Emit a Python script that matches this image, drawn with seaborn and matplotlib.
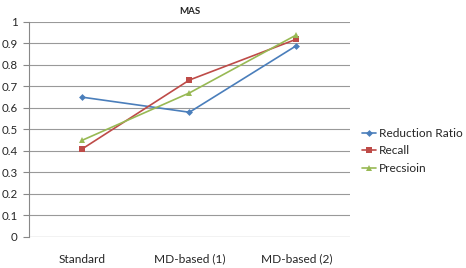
import matplotlib
matplotlib.use("Agg")
import matplotlib.pyplot as plt
import pandas as pd
import seaborn as sns

categories = ["Standard", "MD-based (1)", "MD-based (2)"]
reduction_ratio = [0.65, 0.58, 0.89]
recall = [0.41, 0.73, 0.92]
precision = [0.45, 0.67, 0.94]
series_names = ["Reduction Ratio", "Recall", "Precsioin"]

df = pd.DataFrame({
    "method": categories * 3,
    "value": reduction_ratio + recall + precision,
    "series": [s for s in series_names for _ in categories],
})

sns.set_style("white")
plt.rcParams["font.family"] = ["Lato", "DejaVu Sans"]

fig = plt.figure(figsize=(4.66, 2.68), dpi=100)
ax = fig.add_axes([0.062, 0.116, 0.689, 0.802])

palette = {"Reduction Ratio": "#4A7EBB", "Recall": "#BE4B48", "Precsioin": "#98B954"}
markers = {"Reduction Ratio": "D", "Recall": "s", "Precsioin": "^"}
sizes = {"Reduction Ratio": 3.5, "Recall": 5, "Precsioin": 5}

for name in series_names:
    sub = df[df["series"] == name]
    sns.lineplot(data=sub, x="method", y="value", ax=ax, color=palette[name],
                 marker=markers[name], markersize=sizes[name], linewidth=1.2,
                 markeredgewidth=0, label=name, sort=False)

ax.set_xlim(-0.5, 2.5)
ax.set_ylim(0, 1)
ax.set_yticks([i / 10 for i in range(11)])
ax.set_yticklabels(["0"] + [f"{i / 10:.1f}" for i in range(1, 10)] + ["1"])
ax.yaxis.grid(True, color="#999999", linewidth=0.8)
ax.set_axisbelow(True)
for side in ["top", "right", "bottom"]:
    ax.spines[side].set_visible(False)
ax.spines["left"].set_color("#888888")
ax.spines["left"].set_linewidth(0.8)
ax.axhline(0, color="#888888", linewidth=0.8)

ax.set_xticks(range(3))
ax.set_xticklabels(categories)
ax.tick_params(axis="x", length=0, pad=12, labelsize=8.6)
ax.set_xticks([-0.5, 0.5, 1.5, 2.5], minor=True)
ax.tick_params(axis="x", which="minor", length=4, color="#888888", direction="out")
ax.tick_params(axis="y", length=4, color="#888888", labelsize=8.3, pad=4, left=True)
ax.set_xlabel("")
ax.set_ylabel("")
ax.set_title("MAS", fontsize=7, fontweight="bold", pad=6)

ax.legend(loc="center left", bbox_to_anchor=(1.015, 0.4), frameon=False,
          fontsize=8.6, handlelength=1.2, handletextpad=0.25, labelspacing=0.55,
          borderaxespad=0.2)

fig.savefig("out.png", dpi=100)
